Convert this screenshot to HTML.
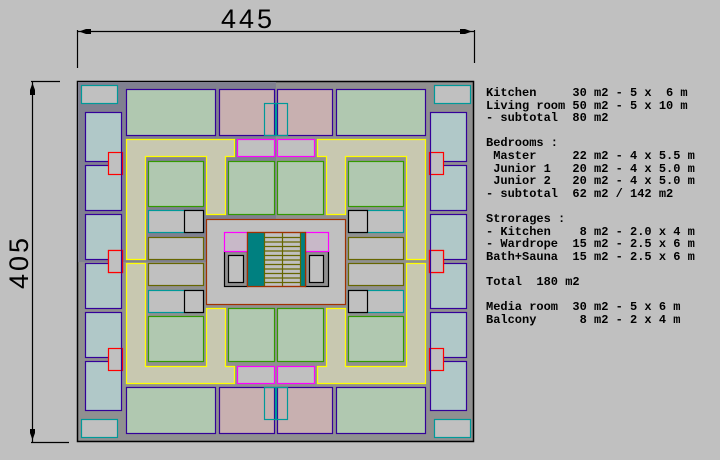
<!DOCTYPE html>
<html><head><meta charset="utf-8"><style>
html,body{margin:0;padding:0;background:#c0c0c0;width:720px;height:460px;overflow:hidden}
svg{position:absolute;left:0;top:0}
pre{position:absolute;left:486px;top:87px;margin:0;font:bold 12px/12.6px "Liberation Mono",monospace;color:#000}
</style></head><body>
<svg width="720" height="460" viewBox="0 0 720 460">
<defs>
<g id="q" stroke-width="1.2">
  <rect x="81.5" y="85.5" width="36" height="18" fill="#c0c0c0" stroke="#009999"/>
  <rect x="85.5" y="112.5" width="36" height="49" fill="#b0c8c8" stroke="#330099"/>
  <rect x="85.5" y="165.5" width="36" height="45" fill="#b0c8c8" stroke="#330099"/>
  <rect x="85.5" y="214.5" width="36" height="45" fill="#b0c8c8" stroke="#330099"/>
  <rect x="126.5" y="89.5" width="89" height="46" fill="#b0c8b0" stroke="#330099"/>
  <rect x="219.5" y="89.5" width="55" height="46" fill="#c8b0b0" stroke="#330099"/>
  <rect x="237.5" y="139.5" width="37" height="17" fill="#c0c0c0" stroke="#ff00ff"/>
  <polygon points="126.5,139.5 234.5,139.5 234.5,156.5 225.5,156.5 225.5,214.5 206.5,214.5 206.5,156.5 145.5,156.5 145.5,259.5 126.5,259.5" fill="#c8c8b0" stroke="#ffff00"/>
  <rect x="148.5" y="161.5" width="55" height="45" fill="#b0c8b0" stroke="#339900"/>
  <rect x="228.5" y="161.5" width="46" height="53" fill="#b0c8b0" stroke="#339900"/>
  <rect x="148.5" y="210.5" width="55" height="22" fill="#c0c0c0" stroke="#009999"/>
  <rect x="184.5" y="210.5" width="19" height="22" fill="#c0c0c0" stroke="#000"/>
  <rect x="148.5" y="237.5" width="55" height="22" fill="#c0c0c0" stroke="#666600"/>
</g>
<g id="r" stroke-width="1.2">
  <rect x="108.5" y="152.5" width="14" height="22" fill="#c0c0c0" stroke="#ff0000"/>
  <line x1="121.5" y1="152" x2="121.5" y2="175" stroke="#330099"/>
  <line x1="108" y1="161.5" x2="108" y2="161.5" stroke="#330099"/>
  <rect x="108.5" y="250.5" width="14" height="22" fill="#c0c0c0" stroke="#ff0000"/>
  <line x1="121.5" y1="250" x2="121.5" y2="273" stroke="#330099"/>
  <rect x="264.5" y="103.5" width="12" height="32" fill="none" stroke="#009999"/>
</g>
</defs>
<rect x="77.5" y="81.5" width="396" height="360" fill="#909090" stroke="#000" stroke-width="1.5"/>
<rect x="78" y="82" width="198" height="180" fill="#808090"/>
<use href="#q"/>
<use href="#q" transform="matrix(-1 0 0 1 552 0)"/>
<use href="#q" transform="matrix(1 0 0 -1 0 523)"/>
<use href="#q" transform="matrix(-1 0 0 -1 552 523)"/>
<use href="#r"/>
<use href="#r" transform="matrix(-1 0 0 1 552 0)"/>
<use href="#r" transform="matrix(1 0 0 -1 0 523)"/>
<use href="#r" transform="matrix(-1 0 0 -1 552 523)"/>
<!-- center -->
<g stroke-width="1.2">
<rect x="206.5" y="219.5" width="139" height="85" fill="#c0c0c0" stroke="#a03000"/>
<rect x="224.5" y="251.5" width="23" height="35" fill="#909090" stroke="#000"/>
<rect x="228.5" y="255.5" width="15" height="27" fill="#c0c0c0" stroke="#000"/>
<rect x="305.5" y="251.5" width="23" height="35" fill="#909090" stroke="#000"/>
<rect x="309.5" y="255.5" width="14" height="27" fill="#c0c0c0" stroke="#000"/>
<rect x="224.5" y="232.5" width="23" height="19" fill="#c8b8c8" stroke="#ff00ff"/>
<rect x="305.5" y="232.5" width="23" height="19" fill="#c8b8c8" stroke="#ff00ff"/>
<rect x="247.5" y="232.5" width="58" height="54" fill="#c0c0c0" stroke="#a03000"/>
<rect x="248" y="233" width="16" height="53" fill="#008080"/>
<rect x="300" y="233" width="5" height="53" fill="#008080"/>
<g stroke="#666600">
<line x1="264.5" y1="232" x2="264.5" y2="286"/><line x1="300.5" y1="232" x2="300.5" y2="286"/><line x1="282.5" y1="232" x2="282.5" y2="286"/>
<line x1="264" y1="237.5" x2="300" y2="237.5"/><line x1="264" y1="242" x2="300" y2="242"/><line x1="264" y1="246.5" x2="300" y2="246.5"/><line x1="264" y1="251" x2="300" y2="251"/><line x1="264" y1="255.5" x2="300" y2="255.5"/><line x1="264" y1="260" x2="300" y2="260"/><line x1="264" y1="264.5" x2="300" y2="264.5"/><line x1="264" y1="269" x2="300" y2="269"/><line x1="264" y1="273.5" x2="300" y2="273.5"/><line x1="264" y1="278" x2="300" y2="278"/><line x1="264" y1="282.5" x2="300" y2="282.5"/>
</g>
<rect x="247.5" y="232.5" width="58" height="54" fill="none" stroke="#a03000"/>
</g>
<!-- dimensions -->
<g stroke="#000" stroke-width="1.2" fill="#000">
<line x1="78" y1="31.5" x2="474" y2="31.5"/>
<line x1="77.5" y1="30" x2="77.5" y2="68"/>
<line x1="474.5" y1="30" x2="474.5" y2="63"/>
<polygon points="79,31.5 86,29 91,29 91,34 86,34" stroke="none"/>
<polygon points="472,31.5 465,29 460,29 460,34 465,34" stroke="none"/>
<line x1="32.5" y1="81" x2="32.5" y2="442"/>
<line x1="31" y1="81.5" x2="60" y2="81.5"/>
<line x1="31" y1="442.5" x2="69" y2="442.5"/>
<polygon points="32.5,83 30,90 30,95 35,95 35,90" stroke="none"/>
<polygon points="32.5,440 30,433 30,429 35,429 35,433" stroke="none"/>
</g>
<text x="248" y="28" font-family="Liberation Sans, sans-serif" font-size="27" text-anchor="middle" fill="#000" letter-spacing="3">445</text>
<text transform="translate(28,262) rotate(-90)" font-family="Liberation Sans, sans-serif" font-size="27" text-anchor="middle" fill="#000" letter-spacing="3">405</text>
</svg>
<pre>Kitchen     30 m2 - 5 x  6 m
Living room 50 m2 - 5 x 10 m
- subtotal  80 m2

Bedrooms :
 Master     22 m2 - 4 x 5.5 m
 Junior 1   20 m2 - 4 x 5.0 m
 Junior 2   20 m2 - 4 x 5.0 m
- subtotal  62 m2 / 142 m2

Strorages :
- Kitchen    8 m2 - 2.0 x 4 m
- Wardrope  15 m2 - 2.5 x 6 m
Bath+Sauna  15 m2 - 2.5 x 6 m

Total  180 m2

Media room  30 m2 - 5 x 6 m
Balcony      8 m2 - 2 x 4 m</pre>
</body></html>
